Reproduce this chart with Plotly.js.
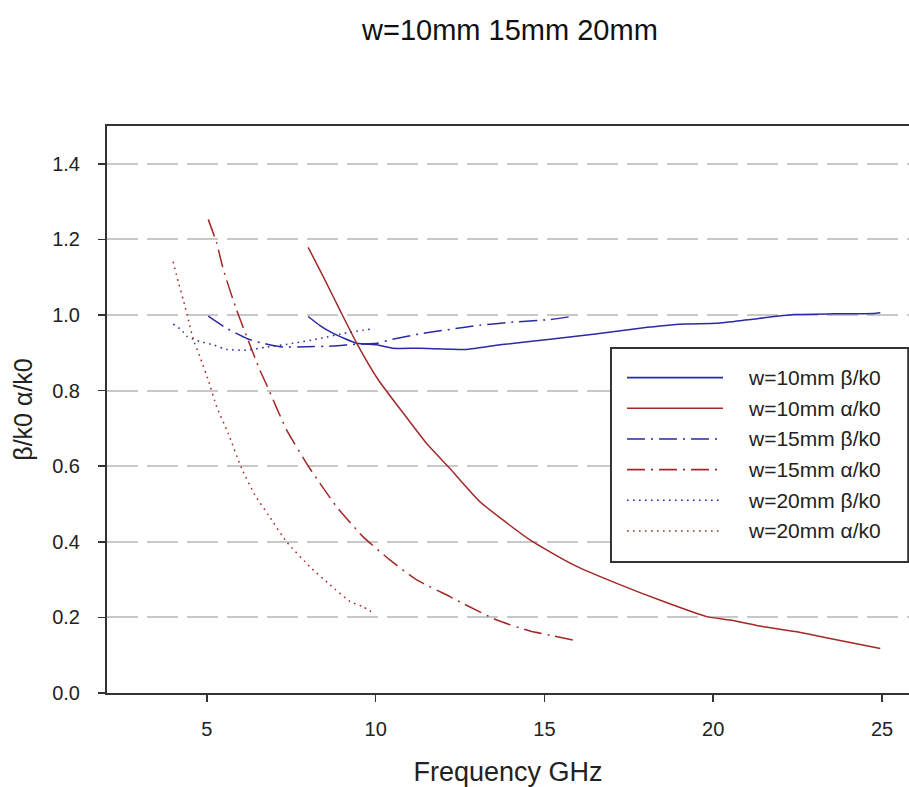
<!DOCTYPE html>
<html>
<head>
<meta charset="utf-8">
<script src="https://cdn.plot.ly/plotly-3.0.1.min.js"></script>
<style>html,body{margin:0;padding:0;background:#fff;}#chart{width:909px;height:787px;}</style>
</head>
<body>
<div id="chart"></div>
<script>
// ---- data ----
var seriesNames = ["w=10mm β/k0", "w=10mm α/k0", "w=15mm β/k0", "w=15mm α/k0", "w=20mm β/k0", "w=20mm α/k0"];

var w10BetaX  = [8.0, 8.35, 8.73, 9.44, 10.03, 10.5, 11.3, 12.7, 13.68, 15.17, 16.45, 17.83, 19.12, 20.1, 21.09, 22.38, 23.55, 24.75, 24.95];
var w10BetaY  = [0.996, 0.972, 0.952, 0.925, 0.921, 0.912, 0.912, 0.909, 0.921, 0.936, 0.949, 0.965, 0.976, 0.978, 0.988, 1.001, 1.003, 1.004, 1.006];

var w10AlphaX = [8.0, 8.45, 8.94, 9.44, 10.08, 10.82, 11.51, 12.2, 13.09, 14.57, 15.86, 17.14, 18.53, 19.81, 20.5, 21.49, 22.48, 23.46, 24.95];
var w10AlphaY = [1.179, 1.101, 1.013, 0.925, 0.828, 0.74, 0.66, 0.594, 0.506, 0.405, 0.339, 0.29, 0.242, 0.202, 0.193, 0.175, 0.162, 0.144, 0.118];

var w15BetaX  = [5.04, 5.58, 6.18, 6.57, 7.16, 7.95, 8.73, 9.44, 10.03, 10.5, 11.3, 12.2, 13.09, 14.18, 15.17, 15.86];
var w15BetaY  = [0.997, 0.965, 0.938, 0.927, 0.916, 0.916, 0.918, 0.923, 0.925, 0.936, 0.95, 0.962, 0.973, 0.982, 0.988, 0.997];

var w15AlphaX = [5.04, 5.29, 5.49, 5.88, 6.18, 6.57, 6.77, 7.36, 8.05, 8.84, 9.63, 10.42, 11.22, 12.2, 12.6, 13.59, 14.57, 15.17, 15.86];
var w15AlphaY = [1.253, 1.19, 1.119, 1.013, 0.943, 0.854, 0.815, 0.696, 0.594, 0.493, 0.413, 0.352, 0.299, 0.255, 0.236, 0.193, 0.164, 0.153, 0.14];

var w20BetaX  = [4.0, 4.25, 4.4, 4.79, 5.19, 5.58, 6.18, 6.77, 7.56, 8.35, 9.14, 9.88];
var w20BetaY  = [0.976, 0.96, 0.944, 0.93, 0.921, 0.909, 0.907, 0.915, 0.925, 0.938, 0.953, 0.963];

var w20AlphaX = [4.0, 4.15, 4.3, 4.45, 4.6, 4.79, 5.04, 5.29, 5.63, 6.03, 6.42, 6.82, 7.36, 8.05, 8.65, 9.24, 9.63, 9.98];
var w20AlphaY = [1.141, 1.088, 1.04, 0.987, 0.934, 0.89, 0.828, 0.757, 0.687, 0.594, 0.524, 0.471, 0.4, 0.334, 0.286, 0.242, 0.228, 0.209];

var xTicks = [5, 10, 15, 20, 25];
var yTicks = [0.0, 0.2, 0.4, 0.6, 0.8, 1.0, 1.2, 1.4];

// ---- styles ----
var BLUE = '#2a2aa3', RED = '#a32828';
var DASHDOT = '18px,6px,2px,6px', DOT = '1.6px,4.4px';
var styles = [
  {color: BLUE, dash: 'solid'},
  {color: RED,  dash: 'solid'},
  {color: BLUE, dash: DASHDOT},
  {color: RED,  dash: DASHDOT},
  {color: BLUE, dash: DOT},
  {color: RED,  dash: DOT}
];
var xs = [w10BetaX, w10AlphaX, w15BetaX, w15AlphaX, w20BetaX, w20AlphaX];
var ys = [w10BetaY, w10AlphaY, w15BetaY, w15AlphaY, w20BetaY, w20AlphaY];

var traces = seriesNames.map(function (n, i) {
  return {
    x: xs[i], y: ys[i], name: n, type: 'scatter', mode: 'lines',
    line: {color: styles[i].color, dash: styles[i].dash, width: 1.5, shape: 'spline', smoothing: 0.5},
    showlegend: false, hoverinfo: 'x+y+name'
  };
});

// ---- custom legend (long sample lines like the reference) ----
var FONT = 'Liberation Sans, Arial, sans-serif';
var legBox = {x0: 0.6284, x1: 0.999, y0: 0.231, y1: 0.6085};
var shapes = [{type: 'rect', xref: 'paper', yref: 'paper', x0: legBox.x0, x1: legBox.x1, y0: legBox.y0, y1: legBox.y1,
  line: {color: '#333', width: 2}, fillcolor: '#fff', layer: 'above'}];
var annotations = [];
var rowTop = 0.5563, rowStep = 0.0541;
seriesNames.forEach(function (n, i) {
  var yy = rowTop - i * rowStep;
  shapes.push({type: 'line', xref: 'paper', yref: 'paper', x0: 0.6484, x1: 0.7681, y0: yy, y1: yy,
    line: {color: styles[i].color, dash: styles[i].dash, width: 1.6}, layer: 'above'});
  annotations.push({xref: 'paper', yref: 'paper', x: 0.7968, y: yy, xanchor: 'left', yanchor: 'middle',
    text: n, showarrow: false, font: {family: FONT, size: 21, color: '#222'}});
});

var layout = {
  width: 909, height: 787,
  margin: {l: 107, r: 0, t: 126, b: 94},
  paper_bgcolor: '#fff', plot_bgcolor: '#fff',
  font: {family: FONT, color: '#222'},
  title: {text: 'w=10mm 15mm 20mm', x: 0.561, xanchor: 'center', y: 0.962, yanchor: 'middle',
    font: {family: FONT, size: 29, color: '#111'}},
  xaxis: {
    range: [2.04, 25.8], tickvals: xTicks, ticktext: xTicks.map(String),
    ticks: 'outside', ticklen: 7, tickwidth: 1.5, tickcolor: '#333',
    showline: true, linecolor: '#333', linewidth: 2, mirror: true,
    showgrid: false, zeroline: false,
    tickfont: {family: FONT, size: 20, color: '#222'}, ticklabelstandoff: 10,
    title: {text: 'Frequency GHz', font: {family: FONT, size: 27, color: '#222'}, standoff: 26}
  },
  yaxis: {
    range: [0, 1.5], tickvals: yTicks, ticktext: yTicks.map(function (v) { return v.toFixed(1); }),
    ticks: 'outside', ticklen: 7, tickwidth: 1.5, tickcolor: '#333',
    showline: true, linecolor: '#333', linewidth: 2, mirror: false,
    showgrid: true, gridcolor: '#c8c8c8', gridwidth: 2, griddash: '31px,9px', zeroline: false,
    tickfont: {family: FONT, size: 20, color: '#222'}, ticklabelstandoff: 14,
    title: {text: 'β/k0 α/k0', font: {family: FONT, size: 25, color: '#222'}, standoff: 12}
  },
  shapes: shapes,
  annotations: annotations,
  showlegend: false
};

Plotly.newPlot('chart', traces, layout, {displayModeBar: false, staticPlot: true});
</script>
</body>
</html>
